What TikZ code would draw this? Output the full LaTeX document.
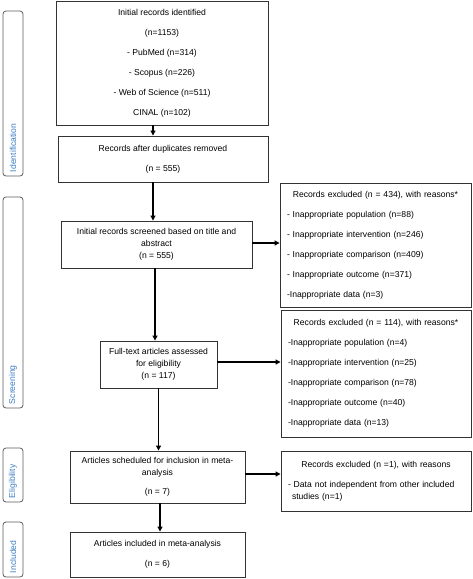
\documentclass[tikz,border=0pt]{standalone}
\usepackage{fontspec}
\setmainfont{Liberation Sans}
\usetikzlibrary{arrows.meta, calc}

\definecolor{phaseblue}{HTML}{3C7DC4}
\definecolor{edgegray}{HTML}{333333}
\definecolor{phasegray}{HTML}{5A5A5A}

\begin{document}
\begin{tikzpicture}[x=1pt, y=-1pt,
  flowbox/.style={draw=edgegray, line width=0.9pt, inner sep=0pt, align=center,
    font=\fontsize{8.6}{12}\selectfont},
  exclbox/.style={draw=edgegray, line width=0.9pt, inner xsep=7pt, inner ysep=0pt,
    align=left, font=\fontsize{8.6}{12}\selectfont},
  phase/.style={draw=phasegray, line width=0.8pt, rounded corners=3pt, rotate=90,
    minimum height=20pt, inner xsep=4pt, inner ysep=0pt, align=left,
    text=phaseblue, font=\fontsize{8.6}{10}\selectfont},
  arr/.style={line width=1.1pt, -{Triangle[length=5pt, width=5pt]}}]

% Page frame
\useasboundingbox (0,0) rectangle (472,579);

% Phase labels on the left
\node[phase, text width=157pt] (identlab) at (13,93.5) {Identification};
\node[phase, text width=203pt] (screenlab) at (13,302.5) {Screening};
\node[phase, text width=46pt] (eliglab) at (13,475) {Eligibility};
\node[phase, text width=47pt] (incllab) at (13,549.5) {Included};

% Main column
\node[flowbox, minimum width=212pt, minimum height=124pt] (ident) at (162,63)
  {Initial records identified\\[8pt](n=1153)\\[8pt]- PubMed (n=314)\\[8pt]- Scopus (n=226)\\[8pt]- Web of Science (n=511)\\[8pt]CINAL (n=102)};
\node[flowbox, minimum width=210pt, minimum height=46pt] (dedup) at (163,159)
  {Records after duplicates removed\\[8pt](n = 555)};
\node[flowbox, minimum width=191pt, minimum height=47pt] (screen) at (156.5,244.5)
  {Initial records screened based on title and\\abstract\\(n = 555)};
\node[flowbox, minimum width=117pt, minimum height=47pt] (full) at (158.5,364.5)
  {Full-text articles assessed\\for eligibility\\(n = 117)};
\node[flowbox, minimum width=175pt, minimum height=52pt] (sched) at (157.5,477)
  {Articles scheduled for inclusion in meta-\\analysis\\[7pt](n = 7)};
\node[flowbox, minimum width=175pt, minimum height=45pt] (incl) at (157.5,554.5)
  {Articles included in meta-analysis\\[8pt](n = 6)};

% Exclusion boxes
\node[exclbox, text width=177pt, minimum height=124pt] (exclA) at (375.5,245)
  {\makebox[\linewidth]{Records excluded (n = 434), with reasons*}\\[8pt]
   - Inappropriate population (n=88)\\[8pt]
   - Inappropriate intervention (n=246)\\[8pt]
   - Inappropriate comparison (n=409)\\[8pt]
   - Inappropriate outcome (n=371)\\[8pt]
   -Inappropriate data (n=3)};
\node[exclbox, text width=176pt, minimum height=127pt] (exclB) at (376,373.5)
  {\makebox[\linewidth]{Records excluded (n = 114), with reasons*}\\[8pt]
   -Inappropriate population (n=4)\\[8pt]
   -Inappropriate intervention (n=25)\\[8pt]
   -Inappropriate comparison (n=78)\\[8pt]
   -Inappropriate outcome (n=40)\\[8pt]
   -Inappropriate data (n=13)};
\node[exclbox, text width=176pt, minimum height=60pt] (exclC) at (376,481)
  {\makebox[\linewidth]{Records excluded (n =1), with reasons}\\[8pt]
   - Data not independent from other included\\
   \hspace*{4pt}studies (n=1)};

% Draw downward arrows
\draw[arr] ([xshift=-9pt]ident.south) -- ([xshift=-9pt]ident.south |- dedup.north);
\draw[arr] ([xshift=-10pt]dedup.south) -- ([xshift=-10pt]dedup.south |- screen.north);
\draw[arr] ([xshift=-1.5pt]screen.south) -- ([xshift=-1.5pt]screen.south |- full.north);
\draw[arr] (full.south) -- (full.south |- sched.north);
\draw[arr] ([xshift=2.5pt]sched.south) -- ([xshift=2.5pt]sched.south |- incl.north);

% Draw arrows to exclusions
\draw[arr] ([yshift=1.5pt]screen.east) -- ([yshift=1.5pt]screen.east -| exclA.west);
\draw[arr] ([yshift=2.5pt]full.east) -- ([yshift=2.5pt]full.east -| exclB.west);
\draw[arr] ([yshift=3pt]sched.east) -- ([yshift=3pt]sched.east -| exclC.west);

\end{tikzpicture}
\end{document}
